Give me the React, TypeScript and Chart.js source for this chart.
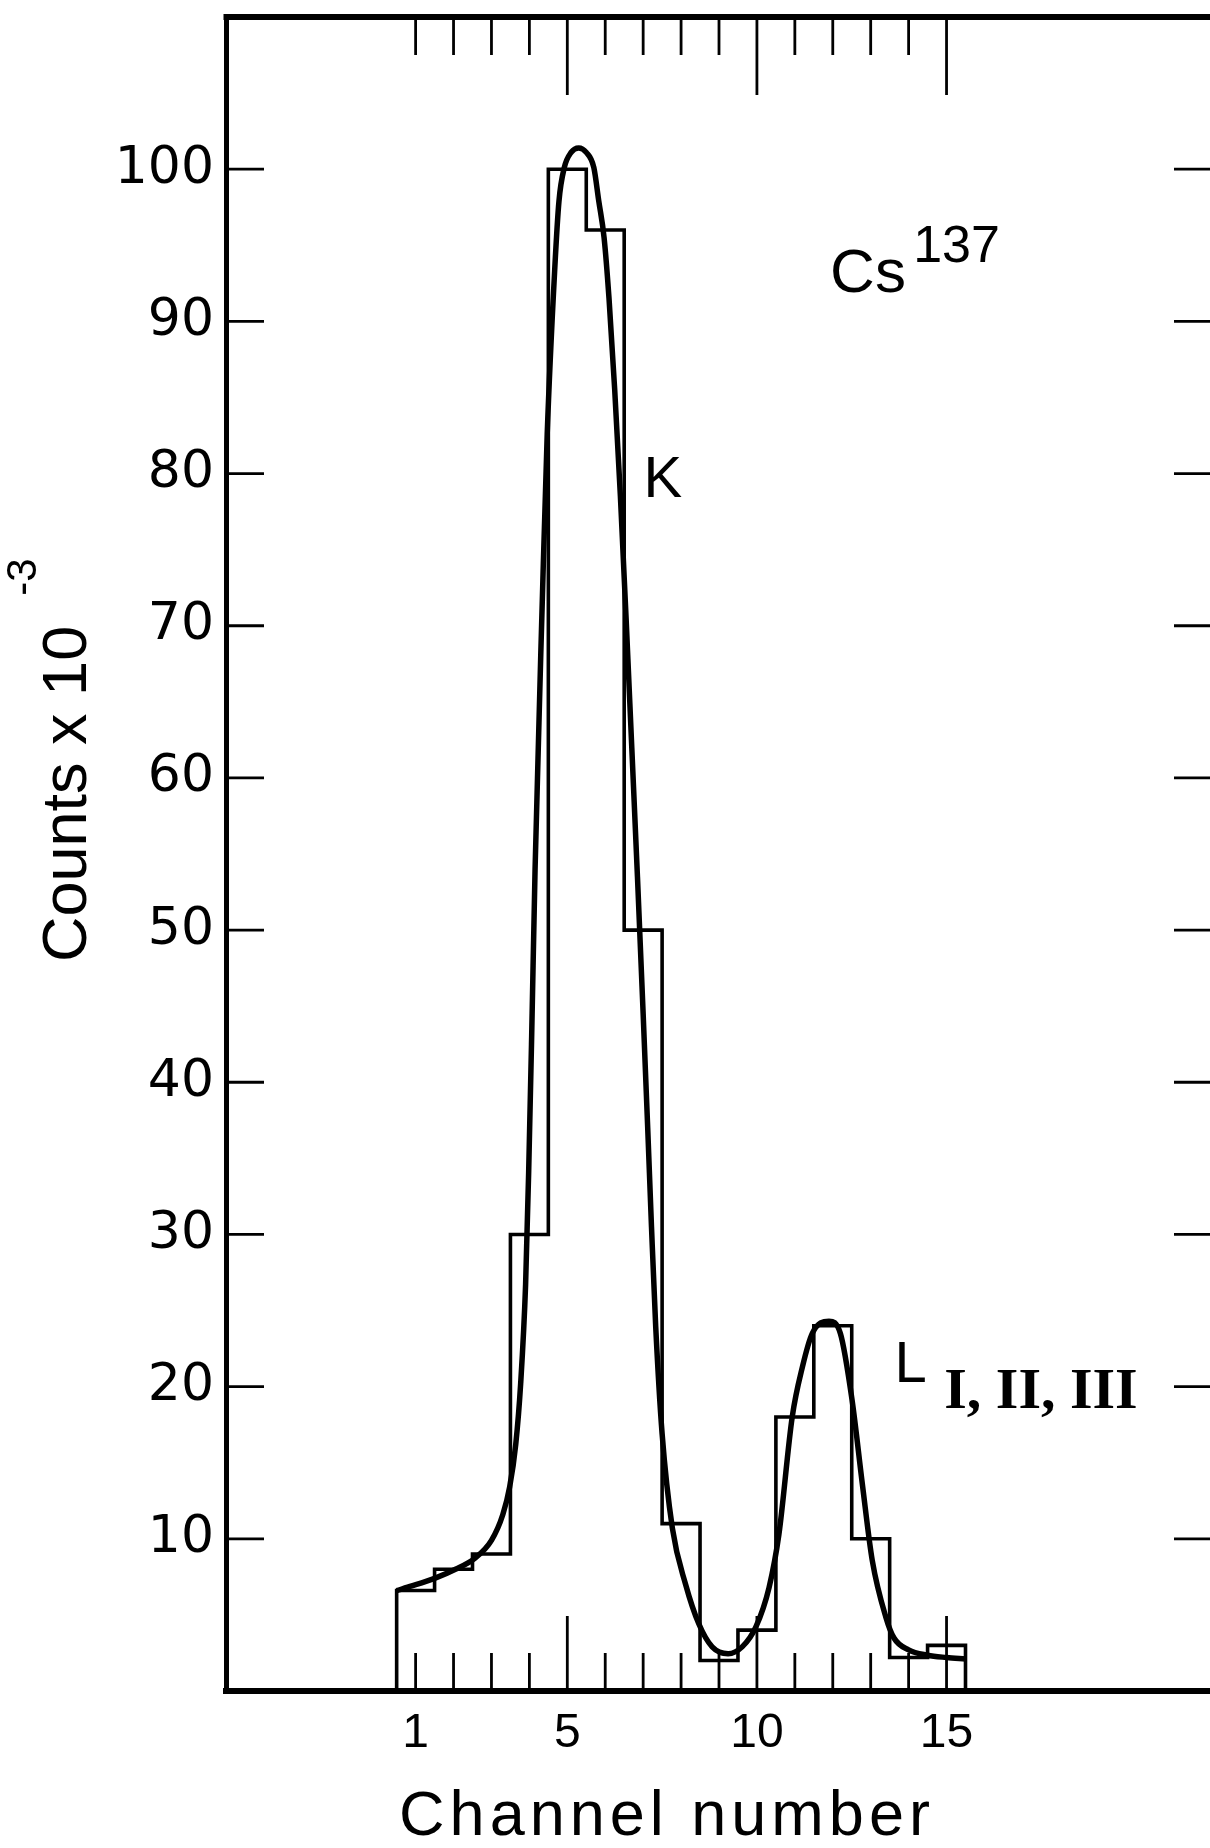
import React, { useEffect, useRef } from 'react';
import { Chart, registerables } from 'chart.js';

Chart.register(...registerables);

// ---- data ----
const channels = [1, 2, 3, 4, 5, 6, 7, 8, 9, 10, 11, 12, 13, 14, 15];
const counts = [6.6, 8.0, 9.0, 30.0, 100, 96, 50, 11, 2.0, 4.0, 18, 24, 10, 2.2, 3.0];

const fitChannels = [
  0.5, 0.9, 1.5, 2.05, 2.55, 3.0, 3.3, 3.48, 3.64, 3.77, 3.9, 3.98, 4.06, 4.15, 4.34, 4.47, 4.67, 4.78,
  4.92, 5.1, 5.3, 5.5, 5.7, 5.83, 5.97, 6.1, 6.25, 6.4, 6.55, 6.7, 6.85, 7.0, 7.12, 7.22, 7.33, 7.5,
  7.77, 8.12, 8.47, 8.82, 9.24, 9.61, 9.97, 10.32, 10.58, 10.93, 11.2, 11.46, 11.9, 12.2, 12.51, 12.78,
  13.04, 13.4, 13.61, 14.0, 14.5, 15.0, 15.5,
];
const fitCounts = [
  6.6, 6.9, 7.4, 8.0, 8.7, 9.9, 11.6, 13.4, 16.2, 20.2, 26.7, 34, 43, 54, 71.6, 82.6, 93.5, 97.9,
  100.1, 101.1, 101.4, 101.1, 100.1, 97.9, 95.5, 91.5, 85.5, 78.5, 70.5, 62, 53.5, 44.5, 37, 30.5,
  24, 16.9, 10.7, 7.0, 4.4, 2.9, 2.45, 2.9, 4.2, 6.8, 10.3, 18.0, 21.3, 23.5, 24.3, 23.5, 19.1, 13.6,
  8.6, 4.85, 3.5, 2.7, 2.35, 2.2, 2.1,
];

const xLabelTicks = [1, 5, 10, 15];
const xMinorTicks = channels;
const xMajorTicks = [5, 10, 15];
const yTicks = [10, 20, 30, 40, 50, 60, 70, 80, 90, 100];

const xTitle = 'Channel number';
const yTitleMain = 'Counts x 10';
const yTitleSup = '-3';

const annotations = [
  { text: 'Cs', ch: 11.93, v: 91.9, font: '62px "Liberation Sans"' },
  { text: '137', ch: 14.12, v: 93.9, font: '52px "Liberation Sans"' },
  { text: 'K', ch: 7.01, v: 78.46, font: '58px "Liberation Sans"' },
  { text: 'L', ch: 13.63, v: 20.3, font: '58px "Liberation Sans"' },
  { text: 'I, II, III', ch: 14.94, v: 18.6, font: 'bold 58px "Liberation Serif"' },
];

const W = 1220;
const H = 1848;

const decorPlugin = {
  id: 'decor',
  afterDraw(chart: any) {
    const { ctx, chartArea: a, scales } = chart;
    const x = scales.x;
    const y = scales.y;
    const line = (x1: number, y1: number, x2: number, y2: number) => {
      ctx.beginPath();
      ctx.moveTo(x1, y1);
      ctx.lineTo(x2, y2);
      ctx.stroke();
    };
    ctx.save();
    ctx.strokeStyle = '#000';
    ctx.fillStyle = '#000';
    ctx.lineCap = 'butt';
    // top frame line
    ctx.lineWidth = 6;
    line(a.left - 2.5, a.top, W, a.top);
    // tick marks
    ctx.lineWidth = 2.8;
    for (const c of xMinorTicks) {
      const px = x.getPixelForValue(c);
      const major = xMajorTicks.includes(c);
      line(px, a.bottom, px, a.bottom - (major ? 75 : 38));
      line(px, a.top, px, a.top + (major ? 78 : 38));
    }
    for (const v of yTicks) {
      const py = y.getPixelForValue(v);
      line(a.left, py, a.left + 38, py);
      line(a.right, py, a.right - 38, py);
    }
    // annotations
    ctx.textAlign = 'left';
    ctx.textBaseline = 'alphabetic';
    for (const an of annotations) {
      ctx.font = an.font;
      ctx.fillText(an.text, x.getPixelForValue(an.ch), y.getPixelForValue(an.v));
    }
    // x title
    ctx.save();
    ctx.font = '63px "Liberation Sans"';
    (ctx as any).letterSpacing = '5px';
    ctx.textAlign = 'center';
    ctx.fillText(xTitle, 667, 1835);
    ctx.restore();
    // y title
    ctx.save();
    ctx.translate(86, 962);
    ctx.rotate(-Math.PI / 2);
    ctx.font = '63px "Liberation Sans"';
    ctx.textAlign = 'left';
    ctx.fillText(yTitleMain, 0, 0);
    const wMain = ctx.measureText(yTitleMain).width;
    ctx.font = '42px "Liberation Sans"';
    ctx.fillText(yTitleSup, wMain + 30, -50);
    ctx.restore();
    ctx.restore();
  },
};

export default function App() {
  const ref = useRef<HTMLCanvasElement | null>(null);
  useEffect(() => {
    if (!ref.current) return;
    const histPoints: { x: number; y: number }[] = [{ x: channels[0] - 0.5, y: 0 }];
    channels.forEach((c, i) => histPoints.push({ x: c - 0.5, y: counts[i] }));
    histPoints.push({ x: channels[channels.length - 1] + 0.5, y: 0 });
    const fitPoints = fitChannels.map((c, i) => ({ x: c, y: fitCounts[i] }));

    const chart = new Chart(ref.current, {
      type: 'line',
      data: {
        datasets: [
          {
            label: 'Counts',
            data: histPoints,
            stepped: 'before',
            borderColor: '#000',
            borderWidth: 3.6,
            pointRadius: 0,
            fill: false,
          },
          {
            label: 'Fit',
            data: fitPoints,
            borderColor: '#000',
            borderWidth: 5.5,
            pointRadius: 0,
            cubicInterpolationMode: 'monotone',
            tension: 0.4,
            fill: false,
          },
        ],
      },
      options: {
        animation: false,
        responsive: false,
        devicePixelRatio: 1,
        parsing: true,
        layout: { autoPadding: false, padding: { left: 0, right: 8, top: 17, bottom: 0 } },
        plugins: { legend: { display: false }, tooltip: { enabled: false }, title: { display: false } },
        scales: {
          x: {
            type: 'linear',
            min: -4,
            max: 22,
            grid: { display: false, drawTicks: false },
            border: { display: true, color: '#000', width: 6 },
            afterBuildTicks: (s: any) => {
              s.ticks = xLabelTicks.map((v) => ({ value: v }));
            },
            afterFit: (s: any) => {
              s.height = 157;
              s.paddingLeft = 0;
              s.paddingRight = 0;
              s.paddingTop = 0;
              s.paddingBottom = 0;
            },
            ticks: {
              autoSkip: false,
              maxRotation: 0,
              padding: 14,
              color: '#000',
              font: { family: '"Liberation Sans"', size: 48 },
              callback: (v: any) => String(v),
            },
          },
          y: {
            type: 'linear',
            min: 0,
            max: 110,
            grid: { display: false, drawTicks: false },
            border: { display: true, color: '#000', width: 5 },
            afterBuildTicks: (s: any) => {
              s.ticks = yTicks.map((v) => ({ value: v }));
            },
            afterFit: (s: any) => {
              s.width = 226;
              s.paddingLeft = 0;
              s.paddingRight = 0;
              s.paddingTop = 0;
              s.paddingBottom = 0;
            },
            ticks: {
              padding: 12,
              color: '#000',
              font: { family: '"DejaVu Sans"', size: 52 },
              callback: (v: any) => String(v),
            },
          },
        },
      },
      plugins: [decorPlugin],
    } as any);
    return () => chart.destroy();
  }, []);

  return (
    <div
      style={{
        position: 'absolute',
        left: 0,
        top: 0,
        width: 1210,
        height: H,
        overflow: 'hidden',
        background: '#fff',
      }}
    >
      <canvas ref={ref} width={W} height={H} style={{ display: 'block', width: W, height: H }} />
    </div>
  );
}
